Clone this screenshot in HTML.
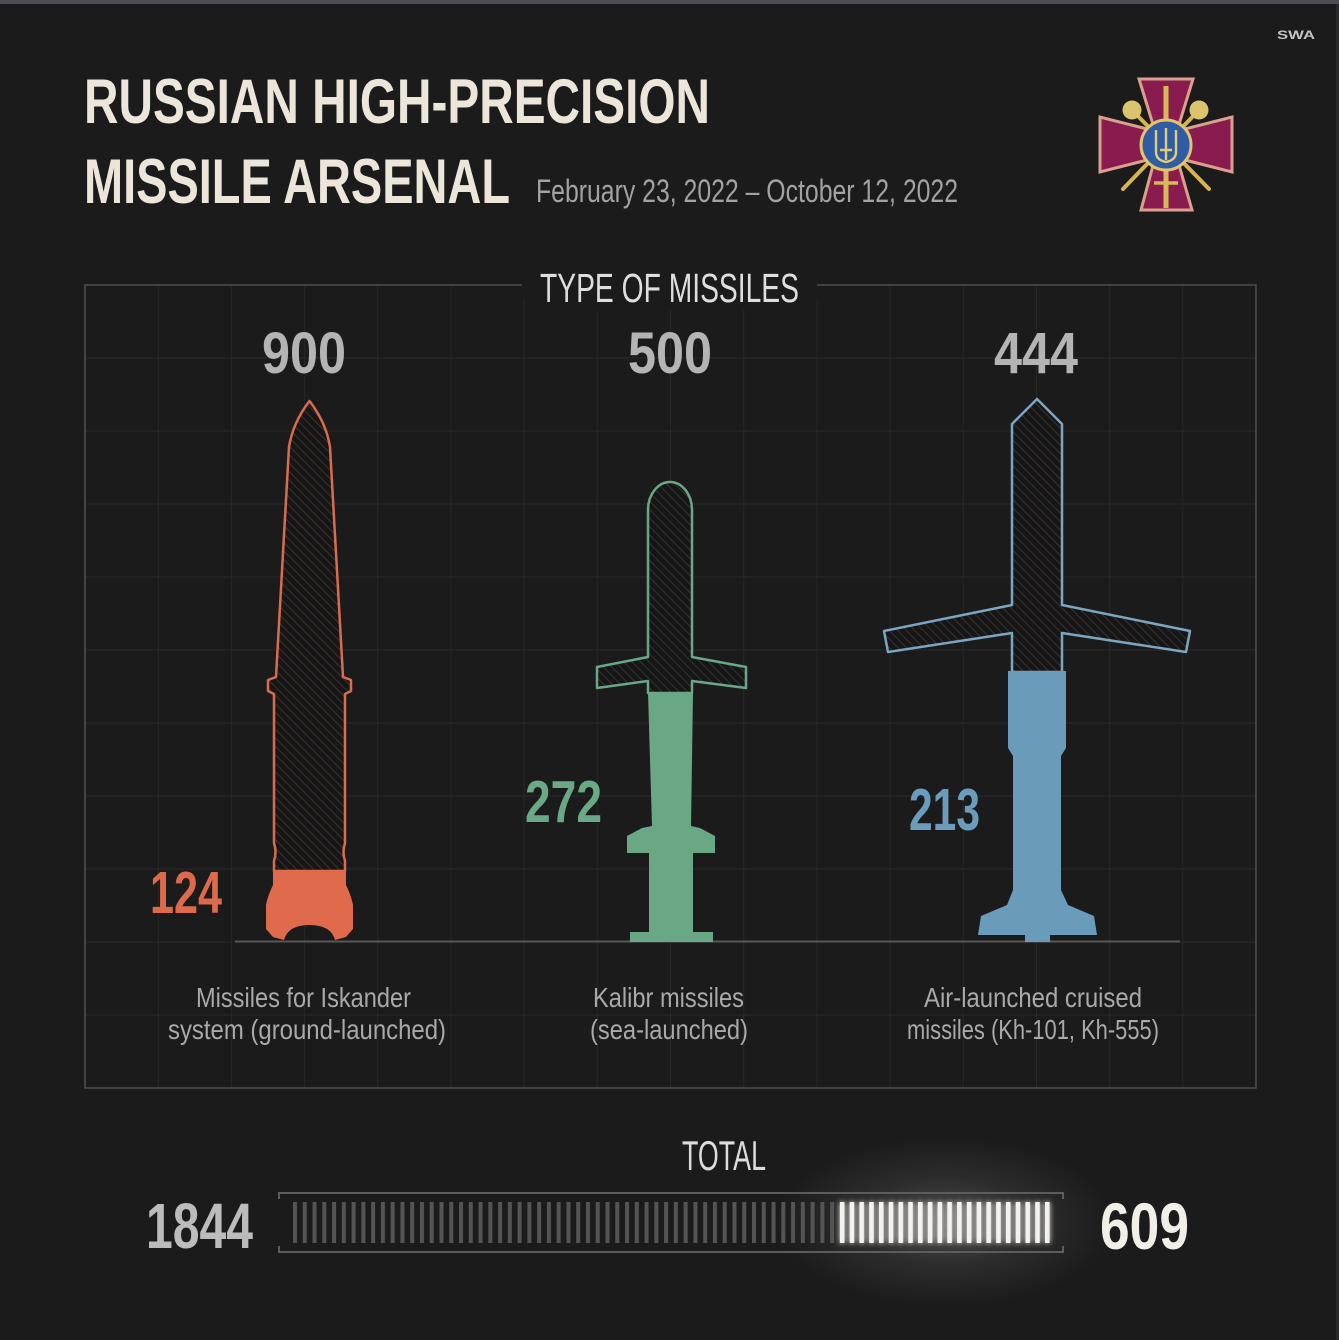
<!DOCTYPE html>
<html>
<head>
<meta charset="utf-8">
<style>
html,body{margin:0;padding:0;background:#1b1b1b;}
svg{display:block;}
</style>
</head>
<body>
<svg width="1339" height="1340" viewBox="0 0 1339 1340" xmlns="http://www.w3.org/2000/svg" font-family="'Liberation Sans Narrow','Liberation Sans',sans-serif">
<defs>
  <pattern id="h1" width="6" height="6" patternUnits="userSpaceOnUse" patternTransform="rotate(45)">
    <rect width="6" height="6" fill="#161616"/>
    <line x1="0" y1="3" x2="6" y2="3" stroke="#3b302d" stroke-width="1.1"/>
  </pattern>
  <pattern id="h2" width="6" height="6" patternUnits="userSpaceOnUse" patternTransform="rotate(45)">
    <rect width="6" height="6" fill="#161616"/>
    <line x1="0" y1="3" x2="6" y2="3" stroke="#35302f" stroke-width="1.1"/>
  </pattern>
  <pattern id="h3" width="6" height="6" patternUnits="userSpaceOnUse" patternTransform="rotate(45)">
    <rect width="6" height="6" fill="#161616"/>
    <line x1="0" y1="3" x2="6" y2="3" stroke="#38302f" stroke-width="1.1"/>
  </pattern>
  <pattern id="pg" x="293" y="0" width="9.766" height="1340" patternUnits="userSpaceOnUse">
    <rect x="0" y="0" width="4" height="1340" fill="#545454"/>
  </pattern>
  <pattern id="pb" x="293" y="0" width="9.766" height="1340" patternUnits="userSpaceOnUse">
    <rect x="0" y="0" width="4.6" height="1340" fill="#f4f2ee"/>
  </pattern>
  <radialGradient id="glow" cx="0.5" cy="0.5" r="0.5">
    <stop offset="0" stop-color="#ffffff" stop-opacity="0.22"/>
    <stop offset="0.5" stop-color="#ffffff" stop-opacity="0.08"/>
    <stop offset="1" stop-color="#ffffff" stop-opacity="0"/>
  </radialGradient>
  <filter id="gl" x="-20%" y="-60%" width="140%" height="220%">
    <feGaussianBlur stdDeviation="3" result="b"/>
    <feMerge><feMergeNode in="b"/><feMergeNode in="SourceGraphic"/></feMerge>
  </filter>
</defs>

<rect x="0" y="0" width="1339" height="1340" fill="#1b1b1b"/>
<rect x="0" y="0" width="1339" height="4" fill="#4d4d53"/>
<rect x="1336" y="4" width="3" height="1336" fill="#2a2a2a"/>

<!-- SWA -->
<text x="1277" y="39" font-size="12" font-weight="bold" fill="#c4c4c4" textLength="38" lengthAdjust="spacingAndGlyphs" font-family="'Liberation Sans',sans-serif">SWA</text>

<!-- Title -->
<text x="84" y="123" font-size="63" font-weight="bold" fill="#ece6da" textLength="626" lengthAdjust="spacingAndGlyphs">RUSSIAN HIGH-PRECISION</text>
<text x="84" y="203" font-size="63" font-weight="bold" fill="#ece6da" textLength="426" lengthAdjust="spacingAndGlyphs">MISSILE ARSENAL</text>
<text x="536" y="202" font-size="32" fill="#a2a2a2" textLength="422" lengthAdjust="spacingAndGlyphs">February 23, 2022 – October 12, 2022</text>

<!-- Emblem -->
<g>
  <polygon points="1139,79 1193,79 1177,131 1232,117 1232,172 1177,158 1192,210 1141,210 1155,158 1100,172 1100,117 1155,131" fill="#8a1b4f" stroke="#d9a08c" stroke-width="3" stroke-linejoin="miter"/>
  <line x1="1132" y1="110" x2="1209" y2="189" stroke="#d6b450" stroke-width="4" stroke-linecap="round"/>
  <line x1="1199" y1="110" x2="1123" y2="189" stroke="#d6b450" stroke-width="4" stroke-linecap="round"/>
  <circle cx="1132" cy="110" r="9.5" fill="#dcc46e"/>
  <circle cx="1199" cy="110" r="9.5" fill="#dcc46e"/>
  <line x1="1166" y1="86" x2="1166" y2="208" stroke="#d9b85a" stroke-width="5"/>
  <line x1="1154" y1="183" x2="1178" y2="183" stroke="#d9b85a" stroke-width="3.5"/>
  <circle cx="1166" cy="145" r="25" fill="#2e5ca6" stroke="#e2c46a" stroke-width="3"/>
  <path d="M1166,128 L1166,160 M1156,130 L1156,152 Q1156,160 1166,162 Q1176,160 1176,152 L1176,130 M1160,150 L1172,150" stroke="#e6cc6e" stroke-width="2.4" fill="none"/>
</g>

<!-- Grid -->
<g stroke="#282828" stroke-width="1">
  <line x1="158.2" y1="285" x2="158.2" y2="1088"/>
  <line x1="231.4" y1="285" x2="231.4" y2="1088"/>
  <line x1="304.6" y1="285" x2="304.6" y2="1088"/>
  <line x1="377.8" y1="285" x2="377.8" y2="1088"/>
  <line x1="450.9" y1="285" x2="450.9" y2="1088"/>
  <line x1="524.1" y1="300" x2="524.1" y2="1088"/>
  <line x1="597.3" y1="310" x2="597.3" y2="1088"/>
  <line x1="670.5" y1="310" x2="670.5" y2="1088"/>
  <line x1="743.7" y1="310" x2="743.7" y2="1088"/>
  <line x1="816.9" y1="300" x2="816.9" y2="1088"/>
  <line x1="890.1" y1="285" x2="890.1" y2="1088"/>
  <line x1="963.3" y1="285" x2="963.3" y2="1088"/>
  <line x1="1036.5" y1="285" x2="1036.5" y2="1088"/>
  <line x1="1109.7" y1="285" x2="1109.7" y2="1088"/>
  <line x1="1182.8" y1="285" x2="1182.8" y2="1088"/>
  <line x1="85" y1="358" x2="1256" y2="358"/>
  <line x1="85" y1="431" x2="1256" y2="431"/>
  <line x1="85" y1="504" x2="1256" y2="504"/>
  <line x1="85" y1="577" x2="1256" y2="577"/>
  <line x1="85" y1="650" x2="1256" y2="650"/>
  <line x1="85" y1="723" x2="1256" y2="723"/>
  <line x1="85" y1="796" x2="1256" y2="796"/>
  <line x1="85" y1="869" x2="1256" y2="869"/>
  <line x1="85" y1="942" x2="1256" y2="942"/>
  <line x1="85" y1="1015" x2="1256" y2="1015"/>
</g>
<path d="M522,285 L85,285 L85,1088 L1256,1088 L1256,285 L817,285" fill="none" stroke="#4e4e4e" stroke-width="1.6"/>

<text x="540" y="302" font-size="41" fill="#dedede" textLength="259" lengthAdjust="spacingAndGlyphs">TYPE OF MISSILES</text>

<!-- Ground line -->
<line x1="235" y1="941.5" x2="1180" y2="941.5" stroke="#585858" stroke-width="2"/>

<!-- Top numbers -->
<text x="262" y="373" font-size="58" font-weight="bold" fill="#b4b4b4" textLength="84" lengthAdjust="spacingAndGlyphs">900</text>
<text x="628" y="373" font-size="58" font-weight="bold" fill="#b4b4b4" textLength="84" lengthAdjust="spacingAndGlyphs">500</text>
<text x="994" y="373" font-size="58" font-weight="bold" fill="#b4b4b4" textLength="84" lengthAdjust="spacingAndGlyphs">444</text>

<!-- Iskander -->
<path d="M309.5,401 C318,412 327,428 330,447 L343,677 L351,680 L351,691 L345,694 L345,843 Q342,852 345,861 L345,871 L274,871 L274,861 Q277,852 274,843 L274,694 L268,691 L268,680 L276,677 L289,447 C292,428 301,412 309.5,401 Z" fill="url(#h1)" stroke="#d96b4e" stroke-width="2.5" stroke-linejoin="round"/>
<path d="M273,870 L346,870 L346,885 Q351,895 353,905 L353,929 L346,937 L335,940 Q331,925 309.5,925 Q288,925 284,940 L273,937 L266,929 L266,905 Q268,895 273,885 Z" fill="#df6a4c"/>
<text x="150" y="913" font-size="59" font-weight="bold" fill="#de6a4c" textLength="72" lengthAdjust="spacingAndGlyphs">124</text>

<!-- Kalibr -->
<path d="M648,693 L648,681 L597,688 L597,667 L648,657 L648,510 A22,28 0 0 1 692,510 L692,657 L746,667 L746,688 L692,681 L692,693 Z" fill="url(#h2)" stroke="#6aa885" stroke-width="2.5" stroke-linejoin="round"/>
<path d="M648,692 L693,692 L692,760 L691,826 L700,828 L715,836 L715,853 L693,853 L693,932 L713,932 L713,942 L630,942 L630,932 L649,932 L649,853 L627,853 L627,836 L642,828 L652,826 L650,760 Z" fill="#6aa885"/>
<text x="525" y="822" font-size="59" font-weight="bold" fill="#6aa985" textLength="77" lengthAdjust="spacingAndGlyphs">272</text>

<!-- Kh-101 -->
<path d="M1037,399 L1062,424 L1062,605 L1190,631 L1186,652 L1062,633 L1062,672 L1012,672 L1012,633 L888,652 L884,631 L1012,605 L1012,424 Z" fill="url(#h3)" stroke="#7aa6c2" stroke-width="2.5" stroke-linejoin="round"/>
<path d="M1008,671 L1066,671 L1066,748 L1061,756 L1061,890 L1068,905 L1094,916 L1097,935 L1050,935 L1050,942 L1025,942 L1025,935 L978,935 L981,916 L1007,905 L1013,890 L1013,756 L1008,748 Z" fill="#6a9bba"/>
<text x="909" y="830" font-size="59" font-weight="bold" fill="#6b9cbb" textLength="71" lengthAdjust="spacingAndGlyphs">213</text>

<!-- Labels -->
<g font-size="28" fill="#a9a9a9">
  <text x="196" y="1007" textLength="215" lengthAdjust="spacingAndGlyphs">Missiles for Iskander</text>
  <text x="168" y="1039" textLength="278" lengthAdjust="spacingAndGlyphs">system (ground-launched)</text>
  <text x="593" y="1007" textLength="151" lengthAdjust="spacingAndGlyphs">Kalibr missiles</text>
  <text x="590" y="1039" textLength="158" lengthAdjust="spacingAndGlyphs">(sea-launched)</text>
  <text x="924" y="1007" textLength="218" lengthAdjust="spacingAndGlyphs">Air-launched cruised</text>
  <text x="907" y="1039" textLength="252" lengthAdjust="spacingAndGlyphs">missiles (Kh-101, Kh-555)</text>
</g>

<!-- TOTAL -->
<text x="682" y="1170" font-size="42" fill="#dcdcdc" textLength="84" lengthAdjust="spacingAndGlyphs">TOTAL</text>

<ellipse cx="945" cy="1222" rx="170" ry="85" fill="url(#glow)"/>

<!-- bar frame -->
<g stroke="#5c5c5c" stroke-width="2" fill="none">
  <path d="M279,1199 L279,1193 L1063,1193 L1063,1199"/>
  <path d="M279,1246 L279,1252 L1063,1252 L1063,1246"/>
</g>
<rect x="293" y="1202" width="547" height="41" fill="url(#pg)"/>
<rect x="839" y="1202" width="212" height="41" fill="url(#pb)" filter="url(#gl)"/>

<text x="146" y="1248" font-size="64" font-weight="bold" fill="#bcbcbc" textLength="107" lengthAdjust="spacingAndGlyphs">1844</text>
<text x="1100" y="1249" font-size="66" font-weight="bold" fill="#f2efe8" textLength="89" lengthAdjust="spacingAndGlyphs">609</text>
</svg>
</body>
</html>
